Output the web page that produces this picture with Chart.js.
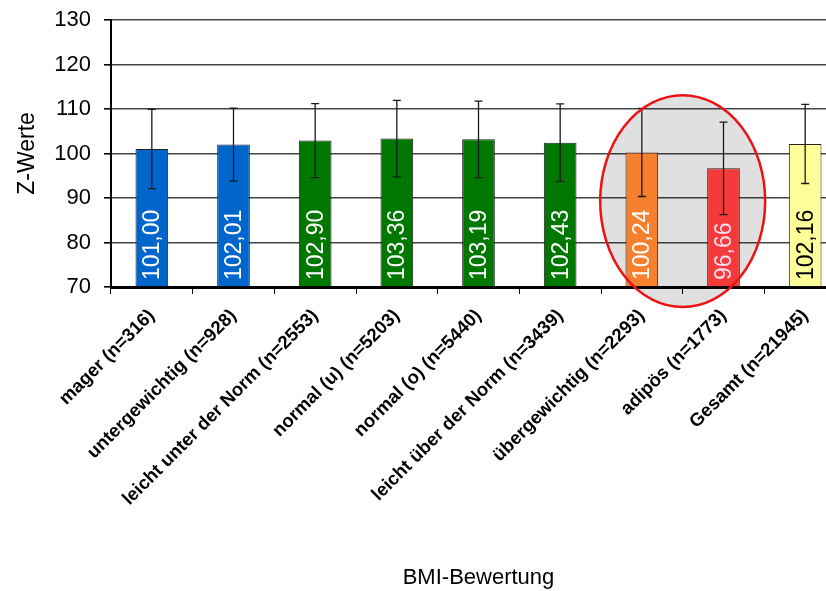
<!DOCTYPE html>
<html>
<head>
<meta charset="utf-8">
<script src="https://cdn.jsdelivr.net/npm/chart.js@4"></script>
<style>
    html, body { margin: 0; padding: 0; overflow: hidden; background: #fff; }
    #wrap { width: 850px; height: 591px; }
</style>
</head>
<body>
<div id="wrap"><canvas id="bmiChart"></canvas></div>
<script>
// Kategorien der BMI-Bewertung
const kategorien = [
    'mager (n=316)',
    'untergewichtig (n=928)',
    'leicht unter der Norm (n=2553)',
    'normal (u) (n=5203)',
    'normal (o) (n=5440)',
    'leicht über der Norm (n=3439)',
    'übergewichtig (n=2293)',
    'adipös (n=1773)',
    'Gesamt (n=21945)'
];
// Mittelwerte (Z-Werte)
const mittelwerte = [101.00, 102.01, 102.90, 103.36, 103.19, 102.43, 100.24, 96.66, 102.16];
// Streuung (halbe Länge der Fehlerbalken), aus dem Bild geschätzt
const streuung = [8.9, 8.2, 8.3, 8.6, 8.6, 8.7, 9.9, 10.4, 8.9];
const balkenFarben = ['#0066cc', '#0066cc', '#007800', '#007800', '#007800', '#007800', '#f7802e', '#f43a3a', '#ffff99'];
const textFarben = ['#fff', '#fff', '#fff', '#fff', '#fff', '#fff', '#fff', '#fde', '#000'];
const yTicks = [70, 80, 90, 100, 110, 120, 130];

const schrift = "'Liberation Sans', Arial, sans-serif";

// Lage der Ellipse (Kategorie-Index und Z-Werte)
function ellipse(chart) {
    const x = chart.scales.x, y = chart.scales.y;
    const cx = (x.getPixelForValue(6) + x.getPixelForValue(7)) / 2;
    const rx = (x.getPixelForValue(7) - x.getPixelForValue(6)) * 1.01;
    const cy = y.getPixelForValue(89.3);
    const ry = cy - y.getPixelForValue(113.1);
    chart.ctx.beginPath();
    chart.ctx.ellipse(cx, cy, rx, ry, 0, 0, Math.PI * 2);
}

// Fehlerbalken, Beschriftung und die rote Ellipse
const extras = {
    id: 'extras',
    beforeDatasetsDraw(chart) {
        const ctx = chart.ctx;
        ctx.save();
        ellipse(chart);
        ctx.fillStyle = 'rgba(0, 0, 0, 0.12)';
        ctx.fill();
        ctx.restore();
    },
    afterDatasetsDraw(chart) {
        const ctx = chart.ctx;
        const y = chart.scales.y;
        const meta = chart.getDatasetMeta(0);

        ctx.save();
        // Fehlerbalken
        ctx.strokeStyle = '#1a1a1a';
        ctx.lineWidth = 1.3;
        meta.data.forEach((bar, i) => {
            const top = y.getPixelForValue(mittelwerte[i] + streuung[i]);
            const bot = y.getPixelForValue(mittelwerte[i] - streuung[i]);
            ctx.beginPath();
            ctx.moveTo(bar.x, top); ctx.lineTo(bar.x, bot);
            ctx.moveTo(bar.x - 4, top); ctx.lineTo(bar.x + 4, top);
            ctx.moveTo(bar.x - 4, bot); ctx.lineTo(bar.x + 4, bot);
            ctx.stroke();
        });

        // Werte im Balken
        ctx.font = '23px ' + schrift;
        ctx.textAlign = 'left';
        ctx.textBaseline = 'middle';
        meta.data.forEach((bar, i) => {
            ctx.save();
            ctx.translate(bar.x + 1, y.getPixelForValue(70) - 7);
            ctx.rotate(-Math.PI / 2);
            ctx.fillStyle = textFarben[i];
            ctx.fillText(mittelwerte[i].toFixed(2).replace('.', ','), 0, 0);
            ctx.restore();
        });

        // Rand der Ellipse
        ellipse(chart);
        ctx.strokeStyle = '#ee1111';
        ctx.lineWidth = 2.5;
        ctx.stroke();
        ctx.restore();
    }
};

const ctx = document.getElementById('bmiChart').getContext('2d');
new Chart(ctx, {
    type: 'bar',
    data: {
        labels: kategorien,
        datasets: [{
            data: mittelwerte,
            backgroundColor: balkenFarben,
            borderColor: '#222',
            borderWidth: 1,
            barPercentage: 0.4,
            categoryPercentage: 1.0,
            base: 70
        }]
    },
    options: {
        responsive: true,
        maintainAspectRatio: false,
        animation: false,
        layout: { padding: { top: 20, right: 4, left: 0, bottom: 0 } },
        plugins: {
            legend: { display: false },
            tooltip: { enabled: false }
        },
        scales: {
            x: {
                offset: true,
                grid: { drawOnChartArea: false, tickLength: 7, color: '#000', offset: true },
                border: { color: '#000', width: 3 },
                ticks: {
                    maxRotation: 45,
                    minRotation: 45,
                    padding: 11,
                    color: '#000',
                    font: { family: schrift, size: 18.5, weight: 'bold' }
                },
                title: {
                    display: true,
                    text: 'BMI-Bewertung',
                    color: '#000',
                    font: { family: schrift, size: 22 },
                    padding: { top: 4, bottom: 0 }
                },
                afterFit(scale) { scale.height = 591 - 287; }
            },
            y: {
                min: 70,
                max: 130,
                afterBuildTicks(scale) { scale.ticks = yTicks.map(v => ({ value: v })); },
                grid: { color: '#444', lineWidth: 1.6, tickLength: 7, tickColor: '#000' },
                border: { color: '#000', width: 2 },
                ticks: {
                    padding: 13,
                    color: '#000',
                    font: { family: schrift, size: 22 }
                },
                title: {
                    display: true,
                    text: 'Z-Werte',
                    color: '#000',
                    font: { family: schrift, size: 23 },
                    padding: { top: 14, bottom: 0 }
                },
                afterFit(scale) {
                    scale.width = 111;
                    scale.paddingTop = 0;
                    scale.paddingBottom = 0;
                }
            }
        }
    },
    plugins: [extras]
});
</script>
</body>
</html>
